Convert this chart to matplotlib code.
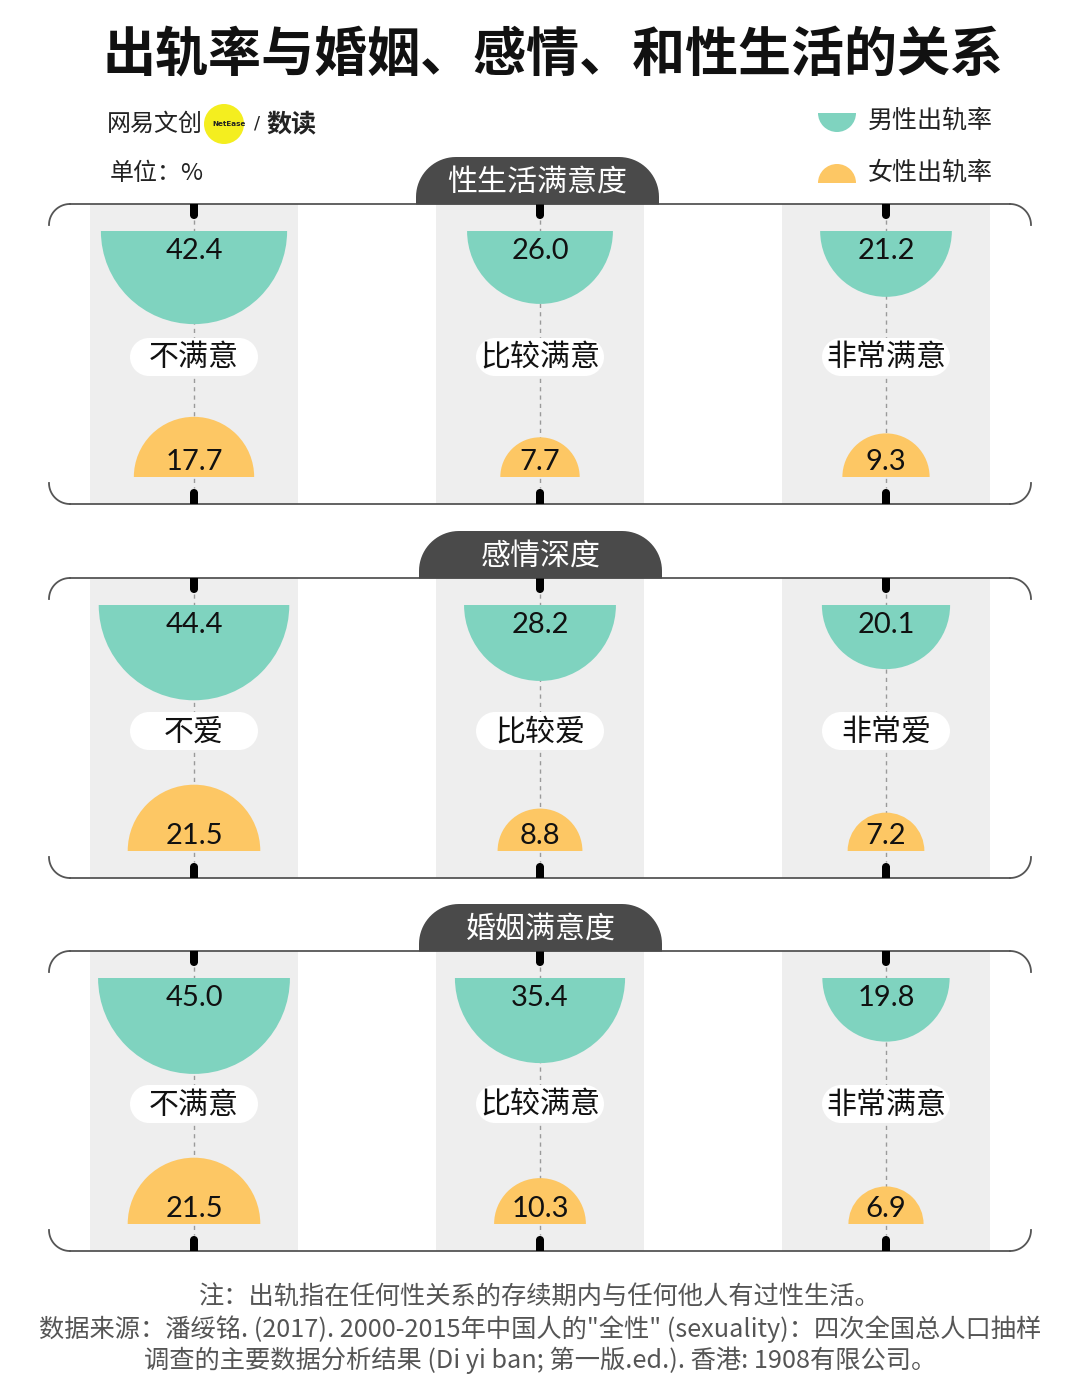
import numpy as np
import matplotlib
matplotlib.use("Agg")
import matplotlib.pyplot as plt
from matplotlib.patches import Wedge, Rectangle, Circle, PathPatch
from matplotlib.path import Path

plt.rcParams['font.family'] = ['Noto Sans CJK SC', 'DejaVu Sans']

# ---------------- data ----------------
title = "出轨率与婚姻、感情、和性生活的关系"
panel_titles = ["性生活满意度", "感情深度", "婚姻满意度"]
categories = [["不满意", "比较满意", "非常满意"],
              ["不爱", "比较爱", "非常爱"],
              ["不满意", "比较满意", "非常满意"]]
male_rate = [[42.4, 26.0, 21.2],
             [44.4, 28.2, 20.1],
             [45.0, 35.4, 19.8]]
female_rate = [[17.7, 7.7, 9.3],
               [21.5, 8.8, 7.2],
               [21.5, 10.3, 6.9]]
legend_labels = ["男性出轨率", "女性出轨率"]
unit_label = "单位：%"
footer = ["注：出轨指在任何性关系的存续期内与任何他人有过性生活。",
          "数据来源：潘绥铭. (2017). 2000-2015年中国人的\"全性\" (sexuality)：四次全国总人口抽样",
          "调查的主要数据分析结果 (Di yi ban; 第一版.ed.). 香港: 1908有限公司。"]

# ---------------- style ----------------
MALE = "#7fd3bf"
FEMALE = "#fdc764"
COLBG = "#eeeeee"
TAB = "#4a4a4a"
FRAME = "#555555"
W, H = 1080, 1397
PX = 72 / 100  # px -> pt

fig = plt.figure(figsize=(W / 100, H / 100), dpi=100)
ax = fig.add_axes([0, 0, 1, 1])
ax.set_xlim(0, W)
ax.set_ylim(H, 0)
ax.axis("off")

k = 14.3  # radius scale: r = k * sqrt(value) (area proportional)

# title
ax.text(553, 55, title, ha="center", va="center", fontsize=52 * PX * 1.02,
        fontweight="black", color="#111111")

# logo
ax.text(107, 124, "网易文创", ha="left", va="center", fontsize=24 * PX, color="#222222")
ax.add_patch(Circle((224, 124), 20, color="#f4ee1f", lw=0, zorder=2))
ax.text(229, 124, "NetEase", ha="center", va="center", fontsize=5.2, fontweight="bold",
        color="#222222", family="DejaVu Sans", zorder=3)
ax.text(257, 124, "/", ha="center", va="center", fontsize=18 * PX, color="#222222",
        family="DejaVu Sans")
ax.text(266, 124, "数读", ha="left", va="center", fontsize=25 * PX, color="#222222",
        fontweight="bold")
ax.text(110, 174, unit_label, ha="left", va="center", fontsize=24 * PX, color="#222222")

# legend
ax.add_patch(Wedge((837, 113), 19, 0, 180, color=MALE, lw=0))
ax.add_patch(Wedge((837, 183), 19, 180, 360, color=FEMALE, lw=0))
ax.text(868, 121, legend_labels[0], ha="left", va="center", fontsize=25 * PX, color="#222222")
ax.text(868, 173, legend_labels[1], ha="left", va="center", fontsize=25 * PX, color="#222222")

col_x = [194, 540, 886]
panel_top = [204, 578, 951]
panel_h = 300
tab_x = [(416, 659), (419, 662), (419, 662)]


def tab_path(x0, x1, ybot, ytop, r):
    verts = [(x0, ybot)]
    cy = ytop + r
    th = np.linspace(np.pi, 1.5 * np.pi, 20)
    verts += [(x0 + r + r * np.cos(t), cy + r * np.sin(t)) for t in th]
    th = np.linspace(1.5 * np.pi, 2 * np.pi, 20)
    verts += [(x1 - r + r * np.cos(t), cy + r * np.sin(t)) for t in th]
    verts += [(x1, ybot), (x0, ybot)]
    codes = [Path.MOVETO] + [Path.LINETO] * (len(verts) - 2) + [Path.CLOSEPOLY]
    return Path(verts, codes)


for p in range(3):
    top = panel_top[p]
    bot = top + panel_h
    # gray columns
    for cx in col_x:
        ax.add_patch(Rectangle((cx - 104, top), 208, panel_h, color=COLBG, lw=0, zorder=0))
    # frame lines
    rr = 21
    ax.plot([49 + rr, 1031 - rr], [top, top], color=FRAME, lw=1.3, zorder=1)
    ax.plot([49 + rr, 1031 - rr], [bot, bot], color=FRAME, lw=1.3, zorder=1)
    for (cxa, cya, a0, a1) in [(49 + rr, top + rr, np.pi, 1.5 * np.pi),
                               (1031 - rr, top + rr, 1.5 * np.pi, 2 * np.pi),
                               (49 + rr, bot - rr, 0.5 * np.pi, np.pi),
                               (1031 - rr, bot - rr, 0, 0.5 * np.pi)]:
        t = np.linspace(a0, a1, 30)
        ax.plot(cxa + rr * np.cos(t), cya + rr * np.sin(t), color=FRAME, lw=1.3, zorder=1)
    # tab
    x0, x1 = tab_x[p]
    ax.add_patch(PathPatch(tab_path(x0, x1, top + 0.5, top - 47, 40), facecolor=TAB,
                           edgecolor="none", zorder=3))
    ax.text((x0 + x1) / 2, top - 22, panel_titles[p], ha="center", va="center",
            fontsize=30 * PX, color="white", zorder=4)

    for i, cx in enumerate(col_x):
        # dashed guide
        ax.plot([cx, cx], [top + 16, bot - 16], color="#9a9a9a", lw=1.0,
                ls=(0, (3, 3)), zorder=1)
        # ticks
        ax.plot([cx, cx], [top, top + 11], color="black", lw=8 * PX, solid_capstyle="butt", zorder=2)
        ax.add_patch(Circle((cx, top + 11), 4, color="black", lw=0, zorder=2))
        ax.plot([cx, cx], [bot - 11, bot], color="black", lw=8 * PX, solid_capstyle="butt", zorder=2)
        ax.add_patch(Circle((cx, bot - 11), 4, color="black", lw=0, zorder=2))
        # male semicircle (down)
        m = male_rate[p][i]
        rm = k * np.sqrt(m)
        ax.add_patch(Wedge((cx, top + 27), rm, 0, 180, color=MALE, lw=0, zorder=2))
        ax.text(cx, top + 47, f"{m:.1f}", ha="center", va="center", fontsize=21,
                family="Lato", color="#111111", zorder=3)
        # female semicircle (up)
        f = female_rate[p][i]
        rf = k * np.sqrt(f)
        ax.add_patch(Wedge((cx, bot - 27), rf, 180, 360, color=FEMALE, lw=0, zorder=2))
        ax.text(cx, bot - 42, f"{f:.1f}", ha="center", va="center", fontsize=21,
                family="Lato", color="#111111", zorder=3)
        # category pill
        yc = top + 153
        ax.add_patch(Circle((cx - 45, yc), 19, color="white", lw=0, zorder=2))
        ax.add_patch(Circle((cx + 45, yc), 19, color="white", lw=0, zorder=2))
        ax.add_patch(Rectangle((cx - 45, yc - 19), 90, 38, color="white", lw=0, zorder=2))
        ax.text(cx, yc + 1, categories[p][i], ha="center", va="center",
                fontsize=30 * PX, fontweight="medium", color="#111111", zorder=3)

# footer
for j, line in enumerate(footer):
    ax.text(540, 1298 + 31 * j, line, ha="center", va="center", fontsize=18.2,
            color="#555555")

fig.savefig("out.png", dpi=100)
